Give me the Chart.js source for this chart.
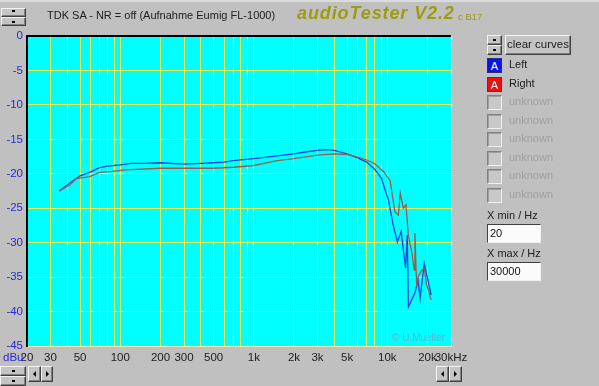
<!DOCTYPE html>
<html>
<head>
<meta charset="utf-8">
<script src="https://cdn.jsdelivr.net/npm/chart.js@4.4.1/dist/chart.umd.min.js"></script>
<style>
  html, body { margin: 0; padding: 0; background: #c0c0c0; }
  body { width: 599px; height: 386px; position: relative; overflow: hidden;
         font-family: "Liberation Sans", Arial, sans-serif; font-size: 11px; color: #202020; }
  #myChart { position: absolute; left: 0; top: 0; }
  .abs { position: absolute; white-space: nowrap; }
  .btn { position: absolute; box-sizing: border-box; background: #c4c4c4;
         border: 1px solid; border-color: #f4f4f4 #404040 #404040 #f4f4f4;
         box-shadow: inset -1px -1px #808080; }
  .sunk { position: absolute; box-sizing: border-box; background: #c8c8c8;
          border: 1px solid; border-color: #808080 #f0f0f0 #f0f0f0 #808080;
          box-shadow: inset 1px 1px #a0a0a0; }
  .arrow { position: absolute; width: 0; height: 0; }
  .chk { width: 15px; height: 15px; }
  .colbox { position: absolute; width: 15px; height: 15px; color: #fff; font-size: 11px;
            line-height: 14px; text-align: center; box-sizing: border-box; }
  .unk { color: #a0a0a0; }
  .inp { position: absolute; box-sizing: border-box; background: #fbfbfb; width: 54px; height: 19px;
         border: 1px solid; border-color: #404040 #f0f0f0 #f0f0f0 #404040; padding-left: 2px;
         line-height: 17px; color: #101010; }
</style>
</head>
<body>
<canvas id="myChart" width="599" height="386"></canvas>

<div class="abs" style="left:0;top:0;width:599px;height:2px;background:#dcdcdc"></div>

<!-- top left spin -->
<div class="btn" style="left:1px;top:8px;width:25px;height:9px"></div>
<div class="btn" style="left:1px;top:17px;width:25px;height:9px"></div>
<div class="abs" style="left:12px;top:10px;width:3px;height:2px;background:#000"></div>
<div class="abs" style="left:12px;top:21px;width:3px;height:2px;background:#000"></div>

<div class="abs" style="left:47px;top:9px;">TDK SA - NR = off (Aufnahme Eumig FL-1000)</div>
<div class="abs" style="left:297px;top:3px;font-size:18px;font-weight:bold;font-style:italic;color:#9c9c14;letter-spacing:0.9px">audioTester V2.2</div>
<div class="abs" style="left:458px;top:11px;font-size:9.5px;color:#9c9c14">c B17</div>

<!-- right panel -->
<div class="btn" style="left:487px;top:35px;width:15px;height:10px"></div>
<div class="btn" style="left:487px;top:45px;width:15px;height:10px"></div>
<div class="abs" style="left:493px;top:39px;width:3px;height:2px;background:#000"></div>
<div class="abs" style="left:493px;top:49px;width:3px;height:2px;background:#000"></div>
<div class="btn" style="left:505px;top:35px;width:66px;height:20px;text-align:center;line-height:17px;font-size:11.5px">clear curves</div>

<div class="colbox" style="left:487px;top:58px;background:#0a14e6;border:1px solid #203080">A</div>
<div class="abs" style="left:509px;top:58px;">Left</div>
<div class="colbox" style="left:487px;top:77px;background:#e81010;border:1px solid #902020">A</div>
<div class="abs" style="left:509px;top:77px;">Right</div>

<div id="unknowns"></div>

<div class="abs" style="left:487px;top:209px;">X min / Hz</div>
<div class="inp" style="left:487px;top:224px;">20</div>
<div class="abs" style="left:487px;top:247px;">X max / Hz</div>
<div class="inp" style="left:487px;top:262px;">30000</div>

<div class="abs" style="left:392px;top:332px;font-size:10px;color:#5cb4cc">© U.Mueller</div>
<div class="abs" style="left:3px;top:351px;color:#2828d8;font-size:11.5px">dBu</div>

<!-- bottom controls -->
<div class="btn" style="left:0px;top:366px;width:26px;height:10px"></div>
<div class="btn" style="left:0px;top:376px;width:26px;height:10px"></div>
<div class="abs" style="left:12px;top:370px;width:3px;height:2px;background:#000"></div>
<div class="abs" style="left:12px;top:380px;width:3px;height:2px;background:#000"></div>
<div class="btn" style="left:28px;top:366px;width:13px;height:16px"></div>
<div class="btn" style="left:41px;top:366px;width:12px;height:16px"></div>
<div class="btn" style="left:436px;top:366px;width:13px;height:16px"></div>
<div class="btn" style="left:449px;top:366px;width:13px;height:16px"></div>
<div class="arrow" style="left:33px;top:371px;border-top:3px solid transparent;border-bottom:3px solid transparent;border-right:3px solid #000"></div>
<div class="arrow" style="left:46px;top:371px;border-top:3px solid transparent;border-bottom:3px solid transparent;border-left:3px solid #000"></div>
<div class="arrow" style="left:441px;top:371px;border-top:3px solid transparent;border-bottom:3px solid transparent;border-right:3px solid #000"></div>
<div class="arrow" style="left:454px;top:371px;border-top:3px solid transparent;border-bottom:3px solid transparent;border-left:3px solid #000"></div>

<script>
// frequency response, left channel (blue)
const leftFreq = [35, 42, 50, 59, 70, 80, 100, 120, 150, 200, 300, 400, 500, 600, 700, 1000, 1500, 2000, 2500,
  3000, 3500, 4000, 5000, 6000, 7000, 8000, 9000, 10200, 11000, 11900, 12700, 13700, 14100, 14400, 16100,
  17000, 17600, 18900, 21300];
const leftDb = [-22.5, -21.3, -20.3, -19.8, -19.1, -18.9, -18.7, -18.5, -18.5, -18.4, -18.6, -18.5, -18.4, -18.3,
  -18.1, -17.8, -17.4, -17.1, -16.8, -16.6, -16.5, -16.6, -17.1, -17.7, -18.3, -19.3, -20.6, -23.8, -27.2, -29.9,
  -28.4, -33.7, -28.9, -39.3, -37.3, -35.4, -38.1, -33.0, -37.6];

// right channel (red)
const rightFreq = [35, 42, 47, 59, 70, 84, 100, 120, 200, 300, 500, 700, 1000, 1500, 2000, 3000, 4000, 5000,
  6000, 7000, 8000, 9400, 10500, 11400, 12100, 12500, 13200, 13800, 14400, 15300, 15900, 16100, 16300, 16600,
  17000, 18100, 18900, 19600, 21300];
const rightDb = [-22.5, -21.6, -20.7, -20.4, -19.8, -19.7, -19.5, -19.4, -19.2, -19.2, -19.2, -19.05, -18.8,
  -18.1, -17.8, -17.3, -17.1, -17.2, -17.6, -18.0, -18.5, -19.7, -21.0, -25.5, -26.0, -22.8, -25.0, -24.5,
  -29.1, -31.5, -34.0, -28.6, -32.0, -36.4, -34.9, -34.0, -33.7, -35.9, -38.3];

const xGrid = [20, 30, 40, 50, 60, 70, 80, 90, 100, 200, 300, 400, 500, 600, 700, 800, 900,
  1000, 2000, 3000, 4000, 5000, 6000, 7000, 8000, 9000, 10000, 20000, 30000];
const xLabelVals = [20, 30, 50, 100, 200, 300, 500, 1000, 2000, 3000, 5000, 10000, 20000, 30000];
const xLabelText = ['20', '30', '50', '100', '200', '300', '500', '1k', '2k', '3k', '5k', '10k', '20k', '30kHz'];

const unknownRows = 6;

document.addEventListener('DOMContentLoaded', function() {
  const unk = document.getElementById('unknowns');
  for (let i = 0; i < unknownRows; i++) {
    const top = 95 + i * 18.6;
    unk.insertAdjacentHTML('beforeend',
      '<div class="sunk chk" style="left:487px;top:' + top + 'px"></div>' +
      '<div class="abs unk" style="left:509px;top:' + top + 'px">unknown</div>');
  }

  const canvas = document.getElementById('myChart');
  if (typeof Chart === 'undefined') {
    console.warn('Chart.js not loaded');
    return;
  }

  const plotBg = {
    id: 'plotBg',
    beforeDraw(chart) {
      const a = chart.chartArea;
      const c = chart.ctx;
      c.save();
      c.fillStyle = '#00ffff';
      c.fillRect(a.left, a.top, a.right - a.left, a.bottom - a.top);
      c.restore();
    }
  };

  const toPts = (fs, ds) => fs.map((f, i) => ({ x: f, y: ds[i] }));
  const gridYellow = '#eef24a';

  new Chart(canvas.getContext('2d'), {
    type: 'line',
    data: {
      datasets: [
        { label: 'Right', data: toPts(rightFreq, rightDb), borderColor: '#9c5c4c', borderWidth: 1.3,
          pointRadius: 0, tension: 0, fill: false },
        { label: 'Left', data: toPts(leftFreq, leftDb), borderColor: '#1444e8', borderWidth: 1.3,
          pointRadius: 0, tension: 0, fill: false }
      ]
    },
    options: {
      responsive: false,
      animation: false,
      devicePixelRatio: 1,
      layout: { padding: { left: 0, top: 36, right: 148, bottom: 20 } },
      plugins: { legend: { display: false }, tooltip: { enabled: false } },
      scales: {
        x: {
          type: 'logarithmic',
          min: 20,
          max: 30000,
          afterBuildTicks: s => { s.ticks = xGrid.map(v => ({ value: v })); },
          afterFit: s => { s.height = 20; },
          ticks: {
            autoSkip: false,
            maxRotation: 0,
            padding: 5,
            color: '#202020',
            font: { family: 'Liberation Sans, Arial', size: 11.5 },
            callback: function(value) {
              const k = xLabelVals.indexOf(value);
              return k >= 0 ? xLabelText[k] : '';
            }
          },
          grid: {
            drawTicks: false,
            color: c => (c.tick && c.tick.value === 30000) ? '#f4f4c8' : gridYellow,
            lineWidth: 1
          },
          border: { display: true, color: '#f0f0b0', width: 1 }
        },
        y: {
          min: -45,
          max: 0,
          afterFit: s => { s.width = 27; },
          ticks: {
            stepSize: 5,
            padding: 4,
            color: '#2828d8',
            font: { family: 'Liberation Sans, Arial', size: 11.5 }
          },
          grid: {
            drawTicks: false,
            color: c => (c.tick && c.tick.value === 0) ? '#000000' : gridYellow,
            lineWidth: c => (c.tick && c.tick.value === 0) ? 2 : 1
          },
          border: { display: true, color: '#000000', width: 2 }
        }
      }
    },
    plugins: [plotBg]
  });
});
</script>
</body>
</html>
